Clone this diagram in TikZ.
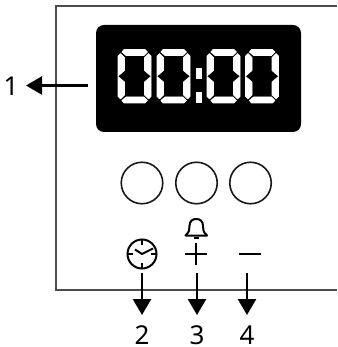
\documentclass[tikz,border=0pt]{standalone}
\usepackage{fontspec}
\setmainfont{Noto Sans}
\usetikzlibrary{arrows.meta}
\tikzset{
  x=1pt,y=-1pt,
  frameline/.style={draw=black!70,line width=1.5pt},
  displaybox/.style={draw=none,fill=black,rounded corners=8pt},
  seg/.style={fill=white,draw=white,line width=0.6pt,line join=round},
  knob/.style={draw=black!90,line width=1.6pt,circle,minimum size=41.5pt,inner sep=0pt,fill=none},
  icon/.style={draw=black,line width=2pt},
  callout/.style={draw=black,line width=2.5pt,-{Triangle[length=16pt,width=18pt]}},
  numlabel/.style={font=\fontsize{26}{26}\selectfont,inner sep=0pt,text=black},
}
\newcommand{\sevenzero}[2]{%
  \begin{scope}[shift={(#1,#2)}]
    \filldraw[seg] (6,0.5)--(27,0.5)--(29.5,3)--(26,6.5)--(8,6.5)--(3.8,3)--cycle;
    \filldraw[seg] (6,54)--(27,54)--(29.5,51.5)--(26,48)--(8,48)--(3.8,51.5)--cycle;
    \filldraw[seg] (0,7)--(2.5,4.5)--(6.5,8.5)--(6.5,21.5)--(2.5,25)--(0,27)--cycle;
    \filldraw[seg] (33,7)--(30.5,4.5)--(26.5,8.5)--(26.5,21.5)--(30.5,25)--(33,27)--cycle;
    \filldraw[seg] (0,47.5)--(2.5,50)--(6.5,46)--(6.5,33)--(2.5,29.5)--(0,27.5)--cycle;
    \filldraw[seg] (33,47.5)--(30.5,50)--(26.5,46)--(26.5,33)--(30.5,29.5)--(33,27.5)--cycle;
  \end{scope}}
\begin{document}
\begin{tikzpicture}
  \useasboundingbox (0,0) rectangle (337,347);
  % frame
  \draw[frameline] (337,6) -- (56,6) -- (56,290) -- (337,290);
  % display
  \fill[displaybox] (96,25) rectangle (301,132);
  \sevenzero{118}{49}
  \sevenzero{157}{49}
  \sevenzero{207}{49}
  \sevenzero{245.5}{49}
  \fill[white] (195.5,68) rectangle (202,79);
  \fill[white] (195.5,92) rectangle (202,103);
  % knobs
  \node[knob] (k1) at (142,183) {};
  \node[knob] (k2) at (196.5,183) {};
  \node[knob] (k3) at (250.5,183) {};
  % clock icon
  \node[icon,circle,minimum size=29pt,inner sep=0pt] (clock) at (142,254) {};
  \draw[icon] (142,240) -- (142,245);
  \draw[icon] (142,268) -- (142,263);
  \draw[icon] (128,254) -- (133,254);
  \draw[icon] (156,254) -- (151,254);
  \draw[icon,line join=round] (135,249.5) -- (142,254) -- (153,248.5);
  % plus, minus
  \draw[icon] (185,254) -- (207,254);
  \draw[icon] (196,243) -- (196,265);
  \draw[icon] (239,254) -- (261,254);
  % bell
  \draw[icon,line join=round] (185.5,235.5) -- (207,235.5)
    .. controls (203,232) and (203,229) .. (203,226)
    .. controls (203,221) and (200,219) .. (196.2,219)
    .. controls (192.5,219) and (189.5,221) .. (189.5,226)
    .. controls (189.5,229) and (189.5,232) .. (185.5,235.5) -- cycle;
  \draw[icon] (194,237.5) -- (198.5,237.5);
  % labels
  \node[numlabel] (n1) at (11,86) {1};
  \node[numlabel] (n2) at (142,335) {2};
  \node[numlabel] (n3) at (197,335) {3};
  \node[numlabel] (n4) at (247,335) {4};
  % callouts
  \coordinate (s1) at (88,85.5);
  \coordinate (e1) at (26,85.5);
  \coordinate (s2) at (142,273);
  \coordinate (e2) at (142,315);
  \coordinate (s3) at (197,273);
  \coordinate (e3) at (197,315);
  \coordinate (s4) at (247,273);
  \coordinate (e4) at (247,315);
  \draw[callout] (s1) -- (e1);
  \draw[callout] (s2) -- (e2);
  \draw[callout] (s3) -- (e3);
  \draw[callout] (s4) -- (e4);
\end{tikzpicture}
\end{document}
